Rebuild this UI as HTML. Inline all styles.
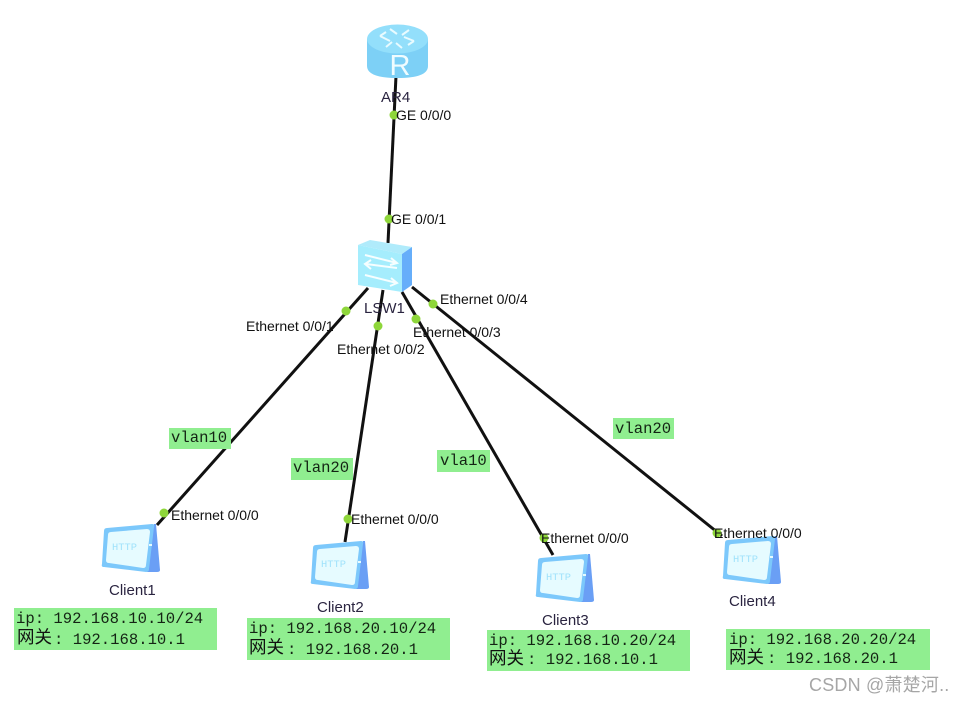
<!DOCTYPE html>
<html><head><meta charset="utf-8"><style>
html,body{margin:0;padding:0;background:#fff;width:965px;height:703px;overflow:hidden}
svg{display:block;filter:blur(0.35px)}
.p{font:14px "Liberation Sans",sans-serif;fill:#111;letter-spacing:-.02px}
.n{font:15px "Liberation Sans",sans-serif;fill:#2a2440}
.m{font:15.6px "Liberation Mono","Noto Sans CJK SC",monospace;fill:#142414}
.c{font:17.5px "Noto Sans CJK SC","Liberation Sans",sans-serif;fill:#111}
.g{fill:#90ee90}
.d{fill:#8ed63a}
.l{stroke:#111;stroke-width:3;fill:none}
</style></head><body>
<svg width="965" height="703" viewBox="0 0 965 703" xmlns="http://www.w3.org/2000/svg">
<defs>
<g id="cl">
<path d="M53 0 L55 0 L59 46 Q59 48 56 48 L46 48 Z" fill="#6a9ff5"/>
<path d="M6 4 L51 0 Q54 0 53 3 L48 45 Q48 48 45 48 L3 43 Q0 43 1 40 L3 7 Q3 4 6 4 Z" fill="#7cc8fb"/>
<path d="M10 8 L46 5 Q49 5 49 8 L45 41 Q45 44 42 44 L8 39 Q5 39 5 36 L7 11 Q7 8 10 8 Z" fill="#e6fbff"/>
<rect x="48" y="20" width="3" height="2" fill="#e6fbff"/>
<text x="11" y="26" style="font:10.4px 'Liberation Mono',monospace;fill:#a0e2fb">HTTP</text>
</g>
</defs>
<rect width="965" height="703" fill="#fff"/>

<!-- connectors -->
<line class="l" x1="396" y1="76" x2="388" y2="243"/>
<line class="l" x1="368" y1="288" x2="157" y2="525"/>
<line class="l" x1="383" y1="290" x2="345" y2="542"/>
<line class="l" x1="402" y1="292" x2="553" y2="555"/>
<line class="l" x1="412" y1="287" x2="722" y2="536"/>

<!-- router -->
<path d="M367 39 V66 Q367 78 397.500 78 Q428 78 428 66 V39 Z" fill="#7dd0f6"/>
<ellipse cx="397.500" cy="39" rx="30.500" ry="14.500" fill="#93dffb"/>
<g stroke="#e8fbff" stroke-width="2" fill="none">
<path d="M380 36 L390 41 M380 36 L386 32 M414 41 L404 37 M414 41 L408 45 M390 29 L397 34 M402 48 L396 43 M409 30 L402 35 M386 47 L392 42"/>
</g>
<text x="400" y="75" text-anchor="middle" style="font:29px 'Liberation Sans',sans-serif;fill:#f0fcff">R</text>

<!-- switch -->
<path d="M358 245 L370 240 L412 247 L402 254 Z" fill="#b0ebfb"/>
<path d="M358 245 L402 254 L402 292 L358 285 Z" fill="#a5edfd"/>
<path d="M402 254 L412 247 L412 285 L402 292 Z" fill="#66aefa"/>
<g stroke="#f6feff" stroke-width="2" fill="none">
<path d="M365 255 L397 263 M391 258 L397 263 L390 265"/>
<path d="M397 268 L366 264 M371 260 L365 264 L371 269"/>
<path d="M365 275 L397 283 M391 278 L397 283 L390 286"/>
</g>

<!-- clients -->
<use href="#cl" x="101" y="524"/>
<use href="#cl" x="310" y="541"/>
<use href="#cl" x="535" y="554"/>
<use href="#cl" x="722" y="536"/>

<!-- port dots -->
<circle class="d" cx="394" cy="115" r="4.500"/>
<circle class="d" cx="389" cy="219" r="4.500"/>
<circle class="d" cx="346" cy="311" r="4.500"/>
<circle class="d" cx="378" cy="326" r="4.500"/>
<circle class="d" cx="416" cy="319" r="4.500"/>
<circle class="d" cx="433" cy="304" r="4.500"/>
<circle class="d" cx="164" cy="513" r="4.500"/>
<circle class="d" cx="348" cy="519" r="4.500"/>
<circle class="d" cx="544" cy="538" r="4.500"/>
<circle class="d" cx="717" cy="533" r="4.500"/>

<!-- port labels -->
<text class="p" x="396" y="120">GE 0/0/0</text>
<text class="p" x="391" y="224">GE 0/0/1</text>
<text class="p" x="246" y="331">Ethernet 0/0/1</text>
<text class="p" x="337" y="354">Ethernet 0/0/2</text>
<text class="p" x="413" y="337">Ethernet 0/0/3</text>
<text class="p" x="440" y="304">Ethernet 0/0/4</text>
<text class="p" x="171" y="520">Ethernet 0/0/0</text>
<text class="p" x="351" y="524">Ethernet 0/0/0</text>
<text class="p" x="541" y="543">Ethernet 0/0/0</text>
<text class="p" x="714" y="538">Ethernet 0/0/0</text>

<!-- node names -->
<text class="n" x="381" y="102">AR4</text>
<text class="n" x="364" y="313">LSW1</text>
<text class="n" x="109" y="595">Client1</text>
<text class="n" x="317" y="612">Client2</text>
<text class="n" x="542" y="625">Client3</text>
<text class="n" x="729" y="606">Client4</text>

<!-- vlan labels -->
<rect class="g" x="169" y="428" width="62" height="21"/>
<text class="m" x="171" y="442">vlan10</text>
<rect class="g" x="291" y="458" width="62" height="22"/>
<text class="m" x="293" y="472">vlan20</text>
<rect class="g" x="437" y="450" width="53" height="22"/>
<text class="m" x="440" y="465">vla10</text>
<rect class="g" x="613" y="418" width="61" height="21"/>
<text class="m" x="615" y="433">vlan20</text>

<!-- note boxes -->
<rect class="g" x="14" y="608" width="203" height="42"/>
<text class="m" x="16" y="623">ip: 192.168.10.10/24</text>
<text class="c" x="17" y="643">网关</text><text class="m" x="54" y="644">: 192.168.10.1</text>

<rect class="g" x="247" y="618" width="203" height="42"/>
<text class="m" x="249" y="633">ip: 192.168.20.10/24</text>
<text class="c" x="249" y="653">网关</text><text class="m" x="287" y="654">: 192.168.20.1</text>

<rect class="g" x="487" y="630" width="203" height="41"/>
<text class="m" x="489" y="645">ip: 192.168.10.20/24</text>
<text class="c" x="489" y="664">网关</text><text class="m" x="527" y="664">: 192.168.10.1</text>

<rect class="g" x="726" y="629" width="204" height="41"/>
<text class="m" x="729" y="644">ip: 192.168.20.20/24</text>
<text class="c" x="729" y="663">网关</text><text class="m" x="767" y="663">: 192.168.20.1</text>

<!-- watermark -->
<text x="809" y="691" style="font:18px 'Liberation Sans','Noto Sans CJK SC',sans-serif;fill:#a6a6a6;letter-spacing:.2px">CSDN @萧楚河..</text>
</svg>
</body></html>
